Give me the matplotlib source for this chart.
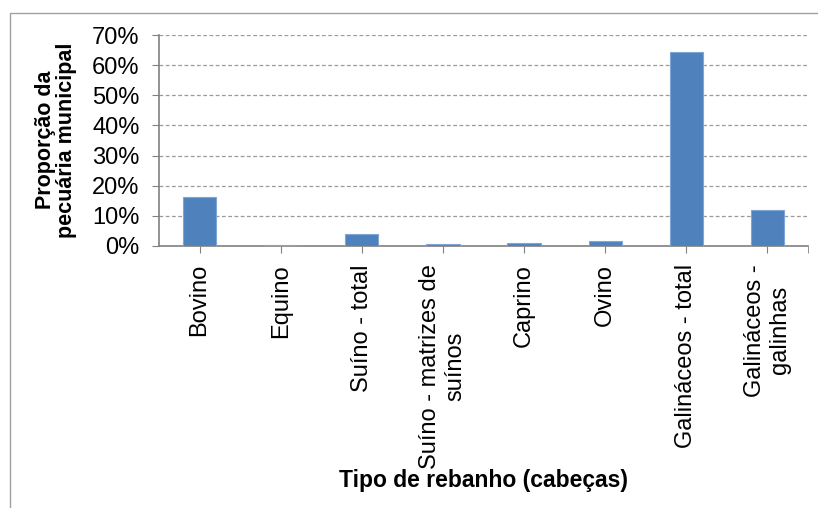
import numpy as np
import matplotlib.pyplot as plt
from matplotlib.patches import Rectangle
from matplotlib.ticker import PercentFormatter

plt.rcParams['font.family'] = ['Liberation Sans', 'DejaVu Sans']

# dados -----
categorias = ["Bovino", "Equino", "Suíno - total", "Suíno - matrizes de\nsuínos",
              "Caprino", "Ovino", "Galináceos - total", "Galináceos -\ngalinhas"]
proporcao = [16.4, 0.2, 4.1, 0.7, 1.1, 1.6, 64.4, 12.1]
ticks_y = [0, 10, 20, 30, 40, 50, 60, 70]

fig = plt.figure(figsize=(8.18, 5.08), dpi=100)
ax = fig.add_axes([159/818, 1-246/508, 649/818, 211/508])

# moldura externa (cortada a direita e embaixo)
fig.patches.append(Rectangle((10/818, -0.1), 1.2, 1-13/508+0.1, transform=fig.transFigure,
                             fill=False, edgecolor="#a0a0a0", lw=1))

x = np.arange(len(categorias))
ax.bar(x, proporcao, width=0.41, color="#4f81bd", edgecolor="#7ea6d6", lw=0.8, zorder=3)

ax.set_xlim(-0.5, len(categorias) - 0.5)
ax.set_ylim(0, 70)
ax.set_yticks(ticks_y)
ax.yaxis.set_major_formatter(PercentFormatter(decimals=0))
ax.grid(axis="y", color="#9a9a9a", linestyle=(0, (3, 2)), lw=0.9, zorder=0)

ax.set_xticks(x)
ax.set_xticklabels(categorias, rotation=90, fontsize=17, linespacing=1.2)
ax.set_xticks([len(categorias) - 0.5], minor=True)
ax.tick_params(axis="x", which="both", length=5, color="#808080", direction="out", pad=8)
ax.tick_params(axis="y", length=5, color="#808080", labelsize=17, pad=9)

for s in ["top", "right"]:
    ax.spines[s].set_visible(False)
for s in ["left", "bottom"]:
    ax.spines[s].set_color("#808080")
    ax.spines[s].set_linewidth(1.2)

fig.text(56/818, 1-140/508, "Proporção da\npecuária municipal", rotation=90,
         ha="center", va="center", fontsize=15.5, fontweight="bold", linespacing=1.05)
fig.text(484/818, 1-481/508, "Tipo de rebanho (cabeças)", ha="center", va="center",
         fontsize=16.5, fontweight="bold")

fig.savefig("out.png", dpi=100)
